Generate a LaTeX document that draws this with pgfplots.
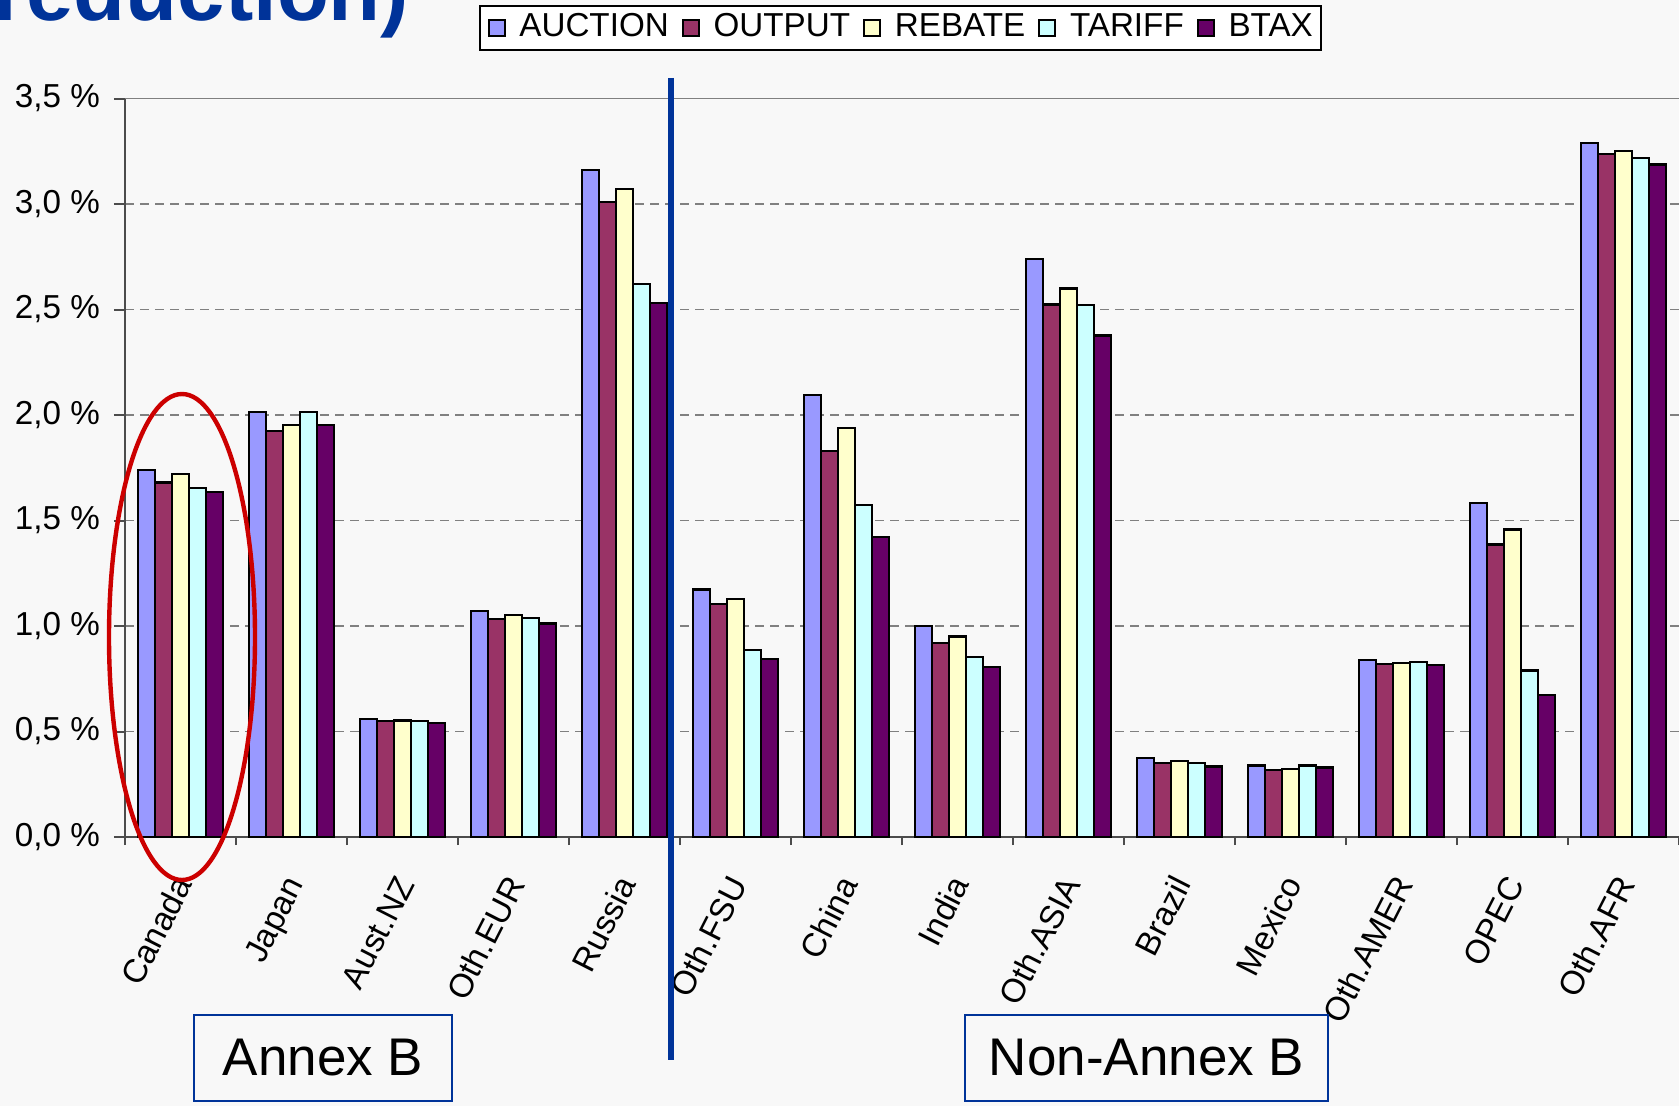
\documentclass[border=0pt]{standalone}
\usepackage{fontspec}
\setmainfont{Liberation Sans}
\usepackage{pgfplots}
\pgfplotsset{compat=1.18}
\definecolor{bg}{HTML}{F8F8F8}
\definecolor{annexblue}{HTML}{003399}
\definecolor{cA}{HTML}{9999FF}
\definecolor{cB}{HTML}{993366}
\definecolor{cC}{HTML}{FFFFCC}
\definecolor{cD}{HTML}{CCFFFF}
\definecolor{cE}{HTML}{660066}
\definecolor{ellred}{HTML}{CC0000}
\begin{document}
\begin{tikzpicture}[x=0.25pt,y=0.25pt]
\fill[bg] (0,0) rectangle (1679,1106);
\useasboundingbox (0,0) rectangle (1679,1106);
\node[anchor=base east, inner sep=0pt, text=annexblue, font=\fontsize{21.25}{25}\selectfont\bfseries] at (410,1085) {reduction)};
\begin{axis}[
  at={(31.25pt,67.25pt)}, anchor=south west,
  scale only axis, width=388.5pt, height=184.625pt,
  xmin=-0.5, xmax=13.5, ymin=0, ymax=3.5,
  ybar=0pt, bar width=4.25pt,
  axis lines=left, axis line style={-, draw=black!70, line width=0.5pt},
  tick align=outside,
  major tick length=2.75pt, minor tick length=2pt,
  xtick={0,...,13},
  xticklabels={Canada,Japan,Aust.NZ,Oth.EUR,Russia,Oth.FSU,China,India,Oth.ASIA,Brazil,Mexico,Oth.AMER,OPEC,Oth.AFR},
  minor xtick={-0.5,0.5,...,13.5},
  major x tick style={draw=none},
  minor x tick style={draw=black!70, line width=0.5pt},
  ytick={0,0.5,...,3.5},
  ytick style={draw=black!70, line width=0.5pt},
  /pgf/number format/assume math mode=true,
  yticklabel={\pgfmathprintnumber[fixed,fixed zerofill,precision=1,use comma]{\tick}~\%},
  ticklabel style={font=\fontsize{8.3}{10}\selectfont},
  yticklabel style={xshift=0pt},
  xticklabel style={xshift=3.3pt, yshift=-8.9pt, rotate=63, anchor=base east, inner sep=0pt},
  ymajorgrids,
  major grid style={draw=black!50, line width=0.4pt, dash pattern=on 2.25pt off 1.5pt},
  clip=false,
  legend columns=5,
  legend style={at={(0.2278,1.1261)}, anchor=north west, draw=black, fill=white,
    line width=0.4pt, inner xsep=2pt, inner ysep=1.8pt, font=\fontsize{8.3}{10}\selectfont,
    nodes={inner sep=0pt, outer sep=0pt},
    /tikz/every odd column/.append style={column sep=3.4pt},
    /tikz/every even column/.append style={column sep=3.3pt},
    /tikz/column 10/.append style={column sep=0pt}},
  legend image code/.code={\draw[#1, draw=black, line width=0.5pt] (0pt,-2pt) rectangle (4pt,2pt);},
  every axis plot/.append style={draw=black, line width=0.55pt},
]
\addplot[fill=cA] coordinates {(0,1.739) (1,2.014) (2,0.559) (3,1.072) (4,3.161) (5,1.173) (6,2.094) (7,1.000) (8,2.741) (9,0.374) (10,0.339) (11,0.840) (12,1.583) (13,3.288)};
\addplot[fill=cB] coordinates {(0,1.680) (1,1.924) (2,0.548) (3,1.032) (4,3.010) (5,1.103) (6,1.831) (7,0.920) (8,2.524) (9,0.349) (10,0.319) (11,0.819) (12,1.386) (13,3.237)};
\addplot[fill=cC] coordinates {(0,1.719) (1,1.954) (2,0.552) (3,1.052) (4,3.070) (5,1.128) (6,1.937) (7,0.950) (8,2.600) (9,0.359) (10,0.324) (11,0.824) (12,1.457) (13,3.252)};
\addplot[fill=cD] coordinates {(0,1.655) (1,2.014) (2,0.550) (3,1.037) (4,2.620) (5,0.885) (6,1.573) (7,0.855) (8,2.520) (9,0.349) (10,0.339) (11,0.830) (12,0.789) (13,3.217)};
\addplot[fill=cE] coordinates {(0,1.635) (1,1.954) (2,0.542) (3,1.012) (4,2.530) (5,0.845) (6,1.421) (7,0.804) (8,2.377) (9,0.334) (10,0.329) (11,0.814) (12,0.673) (13,3.187)};
\legend{AUCTION,OUTPUT,REBATE,TARIFF,BTAX}
\draw[draw=black!50, line width=0.4pt] (axis cs:-0.5,3.5) -- (axis cs:13.5,3.5);
\end{axis}
\draw[annexblue, line width=1.5pt] (671,1028) -- (671,46);
\draw[ellred, line width=1.1pt] (182,469) ellipse [x radius=73, y radius=243];
\draw[annexblue, line width=0.6pt] (194,5) rectangle (452,91);
\node[font=\fontsize{13.25}{16}\selectfont] at (323,48) {Annex B};
\draw[annexblue, line width=0.6pt] (965,5) rectangle (1328,91);
\node[font=\fontsize{13.25}{16}\selectfont] at (1146.5,48) {Non-Annex B};
\end{tikzpicture}
\end{document}
